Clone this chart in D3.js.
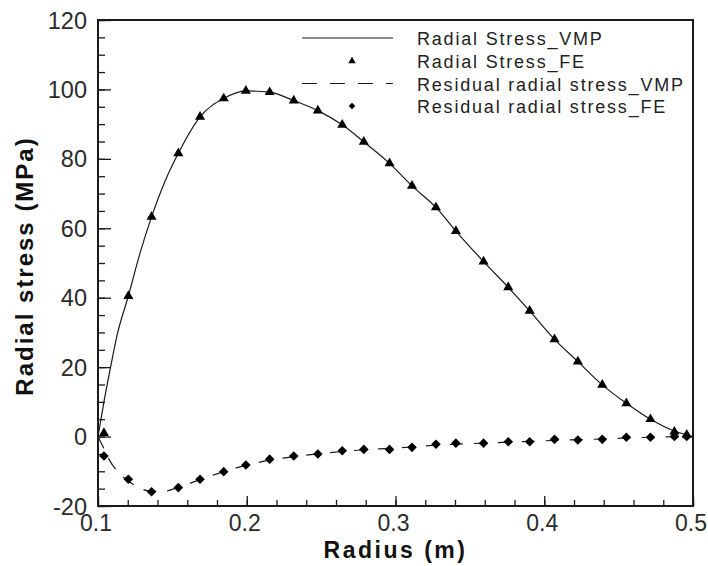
<!DOCTYPE html>
<html>
<head>
<meta charset="utf-8">
<script src="https://cdn.jsdelivr.net/npm/d3@7"></script>
<style>
  html, body { margin: 0; padding: 0; background: #fff; }
  svg { display: block; }
</style>
</head>
<body>
<svg id="chart" width="708" height="566"></svg>
<script>
// Radial stress along the radius: analytical (VMP) curves and FE nodal results
const radiusVMP = [0.1, 0.104, 0.108, 0.113, 0.1204, 0.128, 0.136, 0.145, 0.154, 0.1686,
  0.1845, 0.1994, 0.2154, 0.2316, 0.2478, 0.2642, 0.2787, 0.296, 0.3111, 0.3272,
  0.3406, 0.3592, 0.3758, 0.3902, 0.4069, 0.4226, 0.439, 0.4552, 0.4714, 0.4875, 0.5];
const radialStressVMP = [0, 10, 19, 29.5, 40.5, 52.5, 63.3, 73.5, 81.6, 92.1,
  97.4, 99.6, 99.2, 96.8, 93.9, 89.8, 84.9, 78.7, 72.2, 66.0,
  59.2, 50.4, 43.0, 36.2, 28.0, 21.6, 14.9, 9.6, 5.0, 1.6, 0];
const residualStressVMP = [0, -3.5, -7, -10, -12.8, -14.8, -15.8, -15.7, -14.6, -12.4,
  -10.1, -8.3, -6.8, -5.8, -5.0, -4.3, -3.8, -3.4, -3.0, -2.5,
  -2.2, -1.9, -1.6, -1.4, -1.1, -0.9, -0.7, -0.4, -0.2, -0.05, 0];

const radiusFE = [0.104, 0.1204, 0.136, 0.154, 0.1686, 0.1845, 0.1994, 0.2154, 0.2316, 0.2478,
  0.2642, 0.2787, 0.296, 0.3111, 0.3272, 0.3406, 0.3592, 0.3758, 0.3902, 0.4069,
  0.4226, 0.439, 0.4552, 0.4714, 0.4875, 0.4958];
const radialStressFE = [1.0, 40.5, 63.3, 81.6, 92.1, 97.4, 99.6, 99.2, 96.8, 93.9,
  89.8, 84.9, 78.7, 72.2, 66.0, 59.2, 50.4, 43.0, 36.2, 28.0,
  21.6, 14.9, 9.6, 5.0, 1.4, 0.5];
const residualStressFE = [-5.6, -12.3, -15.9, -14.7, -12.3, -10.1, -8.2, -6.5, -5.6, -5.0,
  -4.1, -3.7, -3.7, -3.1, -2.2, -1.9, -1.9, -1.5, -1.5, -0.8,
  -1.0, -0.8, -0.2, -0.2, 0, 0];

const xTicks = [0.1, 0.2, 0.3, 0.4, 0.5];
const yTicks = [-20, 0, 20, 40, 60, 80, 100, 120];
const legendLabels = ["Radial Stress_VMP", "Radial Stress_FE",
  "Residual radial stress_VMP", "Residual radial stress_FE"];

const plot = { left: 98, right: 693, top: 20, bottom: 506 };
const ink = "#1a1a1a";
const dash = "13,11";

const svg = d3.select("#chart");
const x = d3.scaleLinear().domain([0.1, 0.5]).range([plot.left, plot.right]);
const y = d3.scaleLinear().domain([-20, 120]).range([plot.bottom, plot.top]);

// axes: ticks point inward, minor ticks between majors
const xMinor = d3.range(0.1, 0.5001, 0.02).map(v => +v.toFixed(3));
const yMinor = d3.range(-20, 120.001, 5);

function tickGroup(axis, transform) {
  svg.append("g").attr("transform", transform)
    .call(axis)
    .call(g => g.select(".domain").remove())
    .call(g => g.selectAll("line").attr("stroke", ink).attr("stroke-width", 1.3));
}
tickGroup(d3.axisBottom(x).tickValues(xMinor).tickSize(-6).tickFormat(""), `translate(0,${plot.bottom})`);
tickGroup(d3.axisBottom(x).tickValues(xTicks).tickSize(-10).tickFormat(""), `translate(0,${plot.bottom})`);
tickGroup(d3.axisLeft(y).tickValues(yMinor).tickSize(-7).tickFormat(""), `translate(${plot.left},0)`);
tickGroup(d3.axisLeft(y).tickValues(yTicks).tickSize(-13).tickFormat(""), `translate(${plot.left},0)`);

// frame
svg.append("rect")
  .attr("x", plot.left).attr("y", plot.top)
  .attr("width", plot.right - plot.left).attr("height", plot.bottom - plot.top)
  .attr("fill", "none").attr("stroke", ink).attr("stroke-width", 2);

// tick labels
const labelFont = "'Liberation Sans', Arial, sans-serif";
svg.append("g").selectAll("text").data(yTicks).join("text")
  .attr("x", 87).attr("y", d => y(d) + 8.5)
  .attr("text-anchor", "end")
  .attr("font-family", labelFont).attr("font-size", 23.5)
  .attr("fill", "#2a2a2a")
  .text(d => d);
svg.append("g").selectAll("text").data(xTicks).join("text")
  .attr("x", d => x(d) - 2).attr("y", 531)
  .attr("text-anchor", "middle")
  .attr("font-family", labelFont).attr("font-size", 23)
  .attr("fill", "#2a2a2a")
  .text(d => d3.format(".1f")(d));

// axis titles
svg.append("text")
  .attr("x", (plot.left + plot.right) / 2).attr("y", 558)
  .attr("text-anchor", "middle")
  .attr("font-family", labelFont).attr("font-size", 23).attr("font-weight", "bold")
  .attr("letter-spacing", 2.5)
  .attr("fill", "#111")
  .text("Radius (m)");
svg.append("text")
  .attr("transform", "translate(33,266) rotate(-90)")
  .attr("text-anchor", "middle")
  .attr("font-family", labelFont).attr("font-size", 24).attr("font-weight", "bold")
  .attr("letter-spacing", 2)
  .attr("fill", "#111")
  .text("Radial stress (MPa)");

// curves
const vmpPoints = radiusVMP.map((r, i) => [r, radialStressVMP[i]]);
const residualPoints = radiusVMP.map((r, i) => [r, residualStressVMP[i]]);
const line = d3.line().x(d => x(d[0])).y(d => y(d[1])).curve(d3.curveMonotoneX);

svg.append("path").datum(vmpPoints)
  .attr("d", line).attr("fill", "none")
  .attr("stroke", ink).attr("stroke-width", 1.2);
svg.append("path").datum(residualPoints)
  .attr("d", line).attr("fill", "none")
  .attr("stroke", ink).attr("stroke-width", 1.2)
  .attr("stroke-dasharray", dash);

// FE markers
const triangle = d3.symbol().type(d3.symbolTriangle).size(44);
const diamond = d3.symbol().type(d3.symbolSquare).size(46);

svg.append("g").selectAll("path").data(radiusFE).join("path")
  .attr("d", triangle)
  .attr("transform", (r, i) => `translate(${x(r)},${y(radialStressFE[i])})`)
  .attr("fill", "#000");
svg.append("g").selectAll("path").data(radiusFE).join("path")
  .attr("d", diamond)
  .attr("transform", (r, i) => `translate(${x(r)},${y(residualStressFE[i])}) rotate(45)`)
  .attr("fill", "#000");

// legend
const legend = svg.append("g");
const rowBase = [45, 68, 90.5, 113];
const symX0 = 302, symX1 = 393, symMid = 352;
legend.selectAll("text").data(legendLabels).join("text")
  .attr("x", 417).attr("y", (d, i) => rowBase[i])
  .attr("font-family", labelFont).attr("font-size", 18)
  .attr("letter-spacing", 1.8)
  .attr("fill", "#222")
  .text(d => d);
legend.append("line")
  .attr("x1", symX0).attr("x2", symX1)
  .attr("y1", rowBase[0] - 7).attr("y2", rowBase[0] - 7)
  .attr("stroke", ink).attr("stroke-width", 1.2);
legend.append("path")
  .attr("d", d3.symbol().type(d3.symbolTriangle).size(24))
  .attr("transform", `translate(${symMid},${rowBase[1] - 7})`)
  .attr("fill", "#000");
legend.append("line")
  .attr("x1", symX0).attr("x2", symX1)
  .attr("y1", rowBase[2] - 7).attr("y2", rowBase[2] - 7)
  .attr("stroke", ink).attr("stroke-width", 1.2)
  .attr("stroke-dasharray", "15,13");
legend.append("path")
  .attr("d", d3.symbol().type(d3.symbolSquare).size(22))
  .attr("transform", `translate(${symMid},${rowBase[3] - 7}) rotate(45)`)
  .attr("fill", "#000");
</script>
</body>
</html>
